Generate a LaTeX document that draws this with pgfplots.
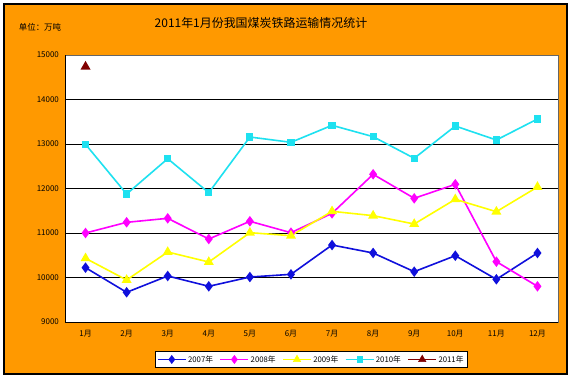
\documentclass[border=0pt]{standalone}
\usepackage{fontspec}
\setmainfont{Noto Sans CJK SC}
\usepackage{pgfplots}
\pgfplotsset{compat=1.18}
\definecolor{bgorange}{RGB}{255,153,0}
\definecolor{c07}{RGB}{16,16,220}
\definecolor{c08}{RGB}{255,0,255}
\definecolor{c09}{RGB}{255,255,0}
\definecolor{c10}{RGB}{30,225,240}
\definecolor{c11}{RGB}{128,0,0}
\begin{document}
\begin{tikzpicture}[x=1bp,y=1bp]
\fill[white] (0,0) rectangle (571,378);
\filldraw[fill=bgorange,draw=black,line width=1.2bp] (4,4) rectangle (567,374);
\node[font=\fontsize{12}{14}\selectfont] at (261,355) {2011年1月份我国煤炭铁路运输情况统计};
\node[font=\fontsize{8.5}{10}\selectfont] at (40,351) {单位：万吨};
\begin{axis}[
  at={(65bp,56bp)}, anchor=south west,
  scale only axis, width=493bp, height=267bp,
  xmin=0.5, xmax=12.5, ymin=9000, ymax=15000,
  axis background/.style={fill=white},
  axis line style={draw=gray!80!black, line width=0.8bp},
  xtick={1,...,12},
  xticklabels={1月,2月,3月,4月,5月,6月,7月,8月,9月,10月,11月,12月},
  major x tick style={draw=none},
  extra x ticks={1.5,2.5,...,11.5},
  extra x tick labels={},
  extra x tick style={major tick length=4bp, tick style={draw=black}, tick align=outside, grid=none},
  ytick={9000,10000,...,15000},
  ymajorgrids, grid style={black, line width=0.8bp},
  y tick style={draw=none},
  yticklabel style={font=\fontsize{8}{9}\selectfont, xshift=-2bp},
  xticklabel style={font=\fontsize{8}{9}\selectfont, yshift=-4bp},
  /pgf/number format/assume math mode=true,
  /pgf/number format/set thousands separator={},
  scaled y ticks=false,
  line width=1.6bp,
  legend columns=5,
  legend style={at={(axis description cs:0.5,-0.1404)}, anchor=center,
    draw=black, line width=0.6bp, fill=white, font=\fontsize{7.8}{9}\selectfont,
    inner sep=2bp, /tikz/every even column/.append style={column sep=5bp}},
  legend image code/.code={\draw[mark repeat=2,mark phase=2,#1] plot coordinates {(0bp,0bp) (14bp,0bp) (28bp,0bp)};},
  after end axis/.code={
    \draw[black, line width=1bp] (rel axis cs:0,1) -- (rel axis cs:0,0) -- (rel axis cs:1,0);
  },
]
\addplot[c07, mark=diamond*, mark size=4bp] coordinates {
(1,10221) (2,9667) (3,10034) (4,9802) (5,10011) (6,10071) (7,10730) (8,10551) (9,10131) (10,10490) (11,9960) (12,10551)};
\addlegendentry{2007年}
\addplot[c08, mark=diamond*, mark size=4bp] coordinates {
(1,11000) (2,11240) (3,11330) (4,10865) (5,11263) (6,11007) (7,11442) (8,12319) (9,11780) (10,12094) (11,10356) (12,9802)};
\addlegendentry{2008年}
\addplot[c09, mark=triangle*, mark size=4.2bp] coordinates {
(1,10431) (2,9944) (3,10573) (4,10348) (5,11007) (6,10940) (7,11487) (8,11390) (9,11202) (10,11757) (11,11479) (12,12034)};
\addlegendentry{2009年}
\addplot[c10, mark=square*, mark size=2.8bp] coordinates {
(1,12993) (2,11876) (3,12670) (4,11906) (5,13157) (6,13038) (7,13420) (8,13165) (9,12679) (10,13404) (11,13090) (12,13562)};
\addlegendentry{2010年}
\addplot[c11, mark=triangle*, mark size=4.2bp] coordinates {(1,14738)};
\addlegendentry{2011年}
\end{axis}
\end{tikzpicture}
\end{document}
